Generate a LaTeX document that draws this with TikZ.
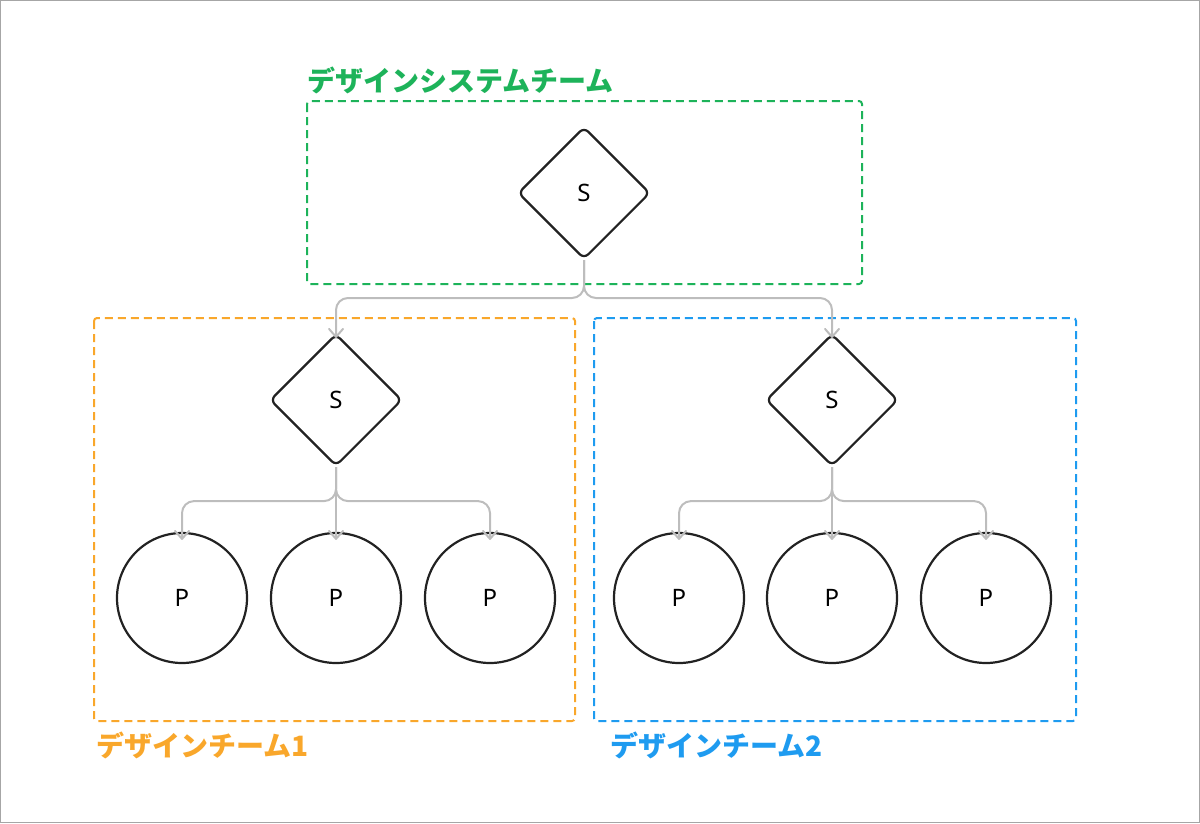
\documentclass[tikz,border=0pt]{standalone}
\usepackage{fontspec}
\setmainfont{Noto Sans}
\newfontfamily\cjk{Noto Sans CJK JP}[BoldFont={Noto Sans CJK JP Black}]
\usetikzlibrary{shapes.geometric}
\definecolor{gG}{HTML}{1DB35A}
\definecolor{gO}{HTML}{F9A72B}
\definecolor{gB}{HTML}{1E9BF0}
\definecolor{gC}{HTML}{BDBDBD}
\definecolor{ink}{HTML}{222222}
\begin{document}
\begin{tikzpicture}[x=1pt,y=-1pt,
  grp/.style={draw=#1,line width=2,dash pattern=on 8pt off 5pt,rounded corners=3},
  glabel/.style={text=#1,font=\cjk\bfseries\fontsize{28}{30}\selectfont,anchor=west,inner sep=0},
  dia/.style={diamond,draw=ink,line width=2.2,minimum width=132,minimum height=132,rounded corners=6,inner sep=0,font=\fontsize{24}{26}\selectfont},
  pnode/.style={circle,draw=ink,line width=2.2,minimum size=130,inner sep=0,font=\fontsize{24}{26}\selectfont},
  conn/.style={draw=gC,line width=2,rounded corners=12},
  chev/.style={draw=gC,line width=2,line cap=round,line join=round}]
\useasboundingbox (0,0) rectangle (1200,823);
\draw[gray!70,line width=1] (0.5,0.5) rectangle (1199.5,822.5);
\draw[grp=gG] (307,101) rectangle (862,284);
\draw[grp=gO] (94,318) rectangle (575,721);
\draw[grp=gB] (594,318) rectangle (1076,721);
\node[glabel=gG] (l0) at (307,80) {デザインシステムチーム};
\node[glabel=gO] (l1) at (96,745) {デザインチーム1};
\node[glabel=gB] (l2) at (610,745) {デザインチーム2};
\node[dia] (s0) at (584,193) {S};
\node[dia] (s1) at (336,400) {S};
\node[dia] (s2) at (832,400) {S};
\foreach \n/\x in {a/182,b/336,c/490,d/679,e/832,f/986}{
  \node[pnode] (p\n) at (\x,598) {P};
  \coordinate (t\n) at ([yshift=-7]p\n.north);
}
\coordinate (t1) at ([yshift=-4]s1.north);
\coordinate (t2) at ([yshift=-4]s2.north);
\draw[conn] (s0.south) -- (584,298) -| (t1);
\draw[conn] (s0.south) -- (584,298) -| (t2);
\foreach \s/\a/\b/\c in {s1/a/b/c,s2/d/e/f}{
  \draw[conn] (\s.south) -- ++(0,34) -| (t\a);
  \draw[conn] (\s.south) -- (t\b);
  \draw[conn] (\s.south) -- ++(0,34) -| (t\c);
}
\foreach \t in {1,2,a,b,c,d,e,f}
  \draw[chev] ([shift={(-7,-8)}]t\t) -- (t\t) -- ([shift={(7,-8)}]t\t);
\end{tikzpicture}
\end{document}
